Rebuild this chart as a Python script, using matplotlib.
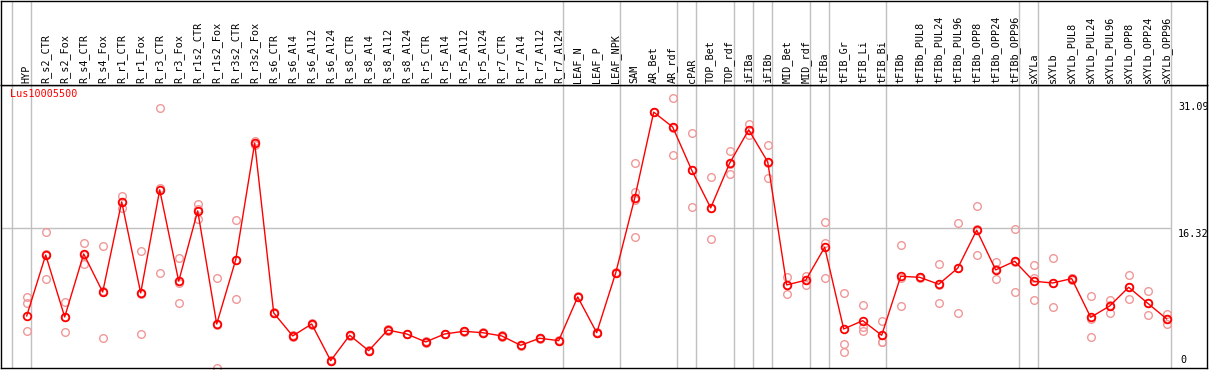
import numpy as np
import matplotlib.pyplot as plt

plt.rcParams['font.family'] = ['DejaVu Sans Mono']

labels = ["HYP", "R_s2_CTR", "R_s2_Fox", "R_s4_CTR", "R_s4_Fox", "R_r1_CTR", "R_r1_Fox",
          "R_r3_CTR", "R_r3_Fox", "R_r1s2_CTR", "R_r1s2_Fox", "R_r3s2_CTR", "R_r3s2_Fox",
          "R_s6_CTR", "R_s6_Al4", "R_s6_Al12", "R_s6_Al24", "R_s8_CTR", "R_s8_Al4",
          "R_s8_Al12", "R_s8_Al24", "R_r5_CTR", "R_r5_Al4", "R_r5_Al12", "R_r5_Al24",
          "R_r7_CTR", "R_r7_Al4", "R_r7_Al12", "R_r7_Al24", "LEAF_N", "LEAF_P", "LEAF_NPK",
          "SAM", "AR_Bet", "AR_rdf", "cPAR", "TOP_Bet", "TOP_rdf", "iFIBa", "iFIBb",
          "MID_Bet", "MID_rdf", "tFIBa", "tFIB_Gr", "tFIB_Li", "tFIB_Bi", "tFIBb",
          "tFIBb_PUL8", "tFIBb_PUL24", "tFIBb_PUL96", "tFIBb_OPP8", "tFIBb_OPP24",
          "tFIBb_OPP96", "sXYLa", "sXYLb", "sXYLb_PUL8", "sXYLb_PUL24", "sXYLb_PUL96",
          "sXYLb_OPP8", "sXYLb_OPP24", "sXYLb_OPP96"]

means = [6.10, 13.2, 5.98, 13.32, 8.89, 19.39, 8.78, 20.79, 10.14, 18.34, 5.16, 12.63, 26.23,
         6.45, 3.77, 5.16, 0.89, 3.85, 2.05, 4.46, 4.0, 3.07, 4.0, 4.31, 4.15,
         3.77, 2.68, 3.5, 3.22, 8.31, 4.15, 11.11,
         19.82, 29.84, 28.1, 23.08, 18.69, 23.9, 27.78, 24.05,
         9.71, 10.26, 14.1, 4.58, 5.55, 3.85, 10.72,
         10.6, 9.79, 11.66, 16.09, 11.46, 12.47, 10.14, 9.94,
         10.45, 5.94, 7.26, 9.44, 7.58, 5.75]

reps = [[8.31, 7.58, 4.35], [15.89, 10.41, 13.3], [7.73, 4.23, 5.98], [14.57, 12.16, 13.23],
        [14.22, 3.50, 8.95], [20.09, 18.65, 19.4], [13.67, 4.0, 8.67], [30.31, 11.07, 20.99],
        [12.82, 7.61, 9.99], [19.15, 17.37, 18.5], [10.49, 0.0, 4.99], [17.25, 8.04, 12.6],
        [26.46, 26.0, 26.23],
        [6.45, 6.4, 6.5], [3.77, 3.7, 3.84], [5.16, 5.1, 5.22], [0.89, 0.85, 0.93],
        [3.85, 3.8, 3.9], [2.05, 2.0, 2.1], [4.46, 4.4, 4.52], [4.0, 3.95, 4.05],
        [3.07, 3.0, 3.14], [4.0, 3.95, 4.05], [4.31, 4.25, 4.37], [4.15, 4.1, 4.2],
        [3.77, 3.7, 3.84], [2.68, 2.6, 2.76], [3.5, 3.45, 3.55], [3.22, 3.15, 3.29],
        [8.31, 8.25, 8.37], [4.15, 4.1, 4.2], [11.11, 11.05, 11.17],
        [23.9, 20.59, 19.6, 15.3], [29.84, 29.8, 29.88], [31.47, 24.83, 28.0],
        [27.4, 18.77, 23.08], [22.34, 15.04, 18.69], [25.3, 22.62, 23.8],
        [28.48, 27.2, 27.7], [26.03, 22.15, 23.97], [10.68, 8.7, 9.75], [10.76, 9.75, 10.27],
        [17.02, 14.57, 10.49], [8.74, 2.8, 1.87], [7.34, 4.85, 4.31], [5.48, 3.03, 3.04],
        [14.37, 7.23, 10.56], [10.6, 10.55, 10.65], [12.12, 7.58, 9.67], [16.9, 6.41, 11.67],
        [18.89, 13.17, 16.2], [12.39, 10.37, 11.6], [16.2, 8.86, 12.35],
        [12.0, 10.56, 7.93], [12.82, 7.11, 9.89], [10.29, 10.5, 10.56], [8.39, 3.65, 5.78],
        [7.93, 6.45, 7.4], [10.84, 8.04, 9.44], [9.01, 6.18, 7.55], [6.33, 5.13, 5.79]]

# group separators sit just after these category indices
group_ends = [-1, 0, 28, 31, 34, 35, 37, 38, 39, 41, 42, 45, 52, 53, 60]
ytick_values = [0, 16.32, 31.09]
gene = "Lus10005500"

W, H = 1209, 370
fig = plt.figure(figsize=(W / 100, H / 100), dpi=100)

def px_box(x0, y0, x1, y1):
    return [x0 / W, (H - y1) / H, (x1 - x0) / W, (y1 - y0) / H]

# data x: px = 26.7 + 19 * i
xl = ((1 - 26.7) / 19, (1207 - 26.7) / 19)
ax = fig.add_axes(px_box(1, 85, 1207, 368.3))
hd = fig.add_axes(px_box(1, 0.5, 1207, 85))

grey = '#c0c0c0'
for a in (ax, hd):
    a.set_xlim(*xl)
    a.set_xticks([])
    a.set_yticks([])
    for s in a.spines.values():
        s.set_color('black')
        s.set_linewidth(1.0)
    for g in group_ends:
        a.axvline(g + 0.21, color=grey, lw=1.0, zorder=1)

hd.set_ylim(0, 1)
for i, lab in enumerate(labels):
    hd.text(i, 0.025, lab, rotation=90, ha='center', va='bottom', fontsize=7.3)

ax.set_ylim(0, 33.0)
ax.hlines(ytick_values[1], xl[0], 60.21, color=grey, lw=1.0, zorder=1)
for v in ytick_values:
    if v == 0:
        ax.text(60.7, 0.4, "0", ha='left', va='bottom', fontsize=7.3)
    else:
        ax.text(60.59, v - 0.1, f"{v:.2f}", ha='left', va='top', fontsize=7.3)

x = np.arange(len(labels))
for i, r in enumerate(reps):
    ax.plot([i] * len(r), r, 'o', ms=5.5, mfc='none', mec='#f09898', mew=1.0,
            zorder=2, clip_on=False)
ax.plot(x, means, '-', color='red', lw=1.0, zorder=3)
ax.plot(x, means, 'o', ms=5.5, mfc='none', mec='red', mew=1.3, zorder=4)

ax.text(-0.88, 32.5, gene, color='red', ha='left', va='top', fontsize=7.3)

fig.savefig('out.png', dpi=100)
